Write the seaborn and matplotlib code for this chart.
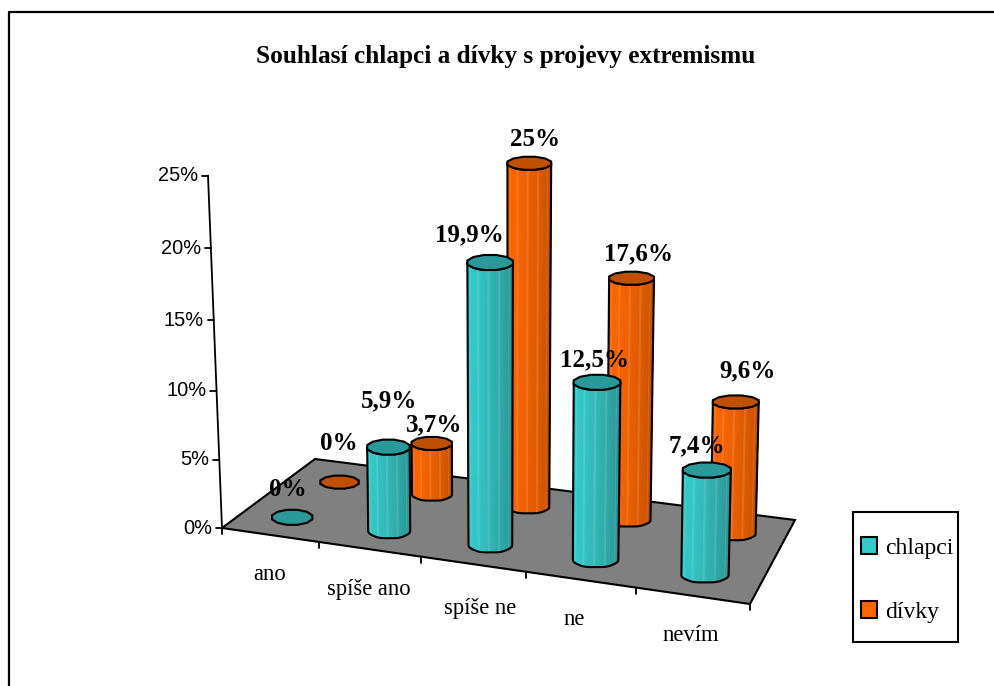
import numpy as np
import pandas as pd
import matplotlib
matplotlib.use("Agg")
import matplotlib.pyplot as plt
from matplotlib.patches import Patch, Polygon, Rectangle
import seaborn as sns

# Values
categories = ["ano", "spíše ano", "spíše ne", "ne", "nevím"]
chlapci = [0, 5.9, 19.9, 12.5, 7.4]
divky = [0, 3.7, 25, 17.6, 9.6]
chlapci_labels = ["0%", "5,9%", "19,9%", "12,5%", "7,4%"]
divky_labels = ["0%", "3,7%", "25%", "17,6%", "9,6%"]
y_ticks = [0, 5, 10, 15, 20, 25]

# Where the value labels sit in the figure, in pixels
chlapci_label_xy = [(288, 490), (389, 401), (469, 235), (594, 360), (697, 446)]
divky_label_xy = [(339, 444), (434, 425), (535, 139), (639, 254), (748, 371)]

data = pd.DataFrame({"category": categories, "chlapci": chlapci, "divky": divky})
data["pos"] = data.index + 0.5
long_data = data.melt(id_vars=["category", "pos"], var_name="series", value_name="value")

sns.set_theme(style="white")
plt.rcParams["font.family"] = ["Liberation Serif", "DejaVu Serif"]

TEAL = "#33CCCC"
ORANGE = "#FF6600"
teal_shades = sns.blend_palette([TEAL, "#33C4C4", "#2FA8A8", "#2A8F8F"], 32)
orange_shades = sns.blend_palette([ORANGE, "#F86300", "#DD5A00", "#BB4E00"], 32)
styles = {
    "chlapci": dict(depth=0.25, dx=0, shades=teal_shades, top="#2A9999"),
    "divky": dict(depth=0.75, dx=3, shades=orange_shades, top="#BF5000"),
}

# Corners of the floor in pixels: front left, front right, back right, back left
FL, FR = np.array([222.0, 528.0]), np.array([750.0, 604.0])
BR, BL = np.array([795.0, 520.0]), np.array([315.0, 459.0])


def floor(cat, depth):
    t = cat / 5
    u = t * (0.9 + 0.1 * t)
    front = FL + (FR - FL) * u
    back = BL + (BR - BL) * u
    return front + (back - front) * depth


def rise(val):
    return 13.5 * val + 0.024 * val ** 2


fig = plt.figure(figsize=(9.95, 6.86), dpi=100)
ax = fig.add_axes([0, 0, 1, 1])
ax.set_xlim(0, 995)
ax.set_ylim(686, 0)
ax.axis("off")

# chart frame
ax.plot([9, 9, 995], [686, 11.5, 11.5], color="black", lw=1.6)

ax.text(506, 57, "Souhlasí chlapci a dívky s projevy extremismu", fontsize=18.2,
        fontweight="bold", ha="center", va="center", color="black")

# floor
ax.add_patch(Polygon([FL, FR, BR, BL], closed=True, fc="#808080", ec="black", lw=1.5, zorder=1))

# y axis
axis_top_x = FL[0] - 14
ax.plot([FL[0], axis_top_x], [FL[1], FL[1] - rise(25)], color="black", lw=1.3, zorder=2)
for v in y_ticks:
    x = FL[0] - 14 * v / 25
    y = FL[1] - rise(v)
    ax.plot([x - 6, x], [y, y], color="black", lw=1.3, zorder=2)
    ax.text(x - 10, y, f"{v}%", family="Liberation Sans", fontsize=14.4, ha="right",
            va="center", color="black")

# category ticks and labels
for c in range(6):
    p = floor(c, 0)
    ax.plot([p[0], p[0]], [p[1], p[1] + 6], color="black", lw=1.3, zorder=2)
label_nudge = [(0, 0), (0, 0), (7, 4), (-6, 0), (-2, 0)]
for i, row in data.iterrows():
    p = floor(row["pos"], 0)
    ax.text(p[0] + label_nudge[i][0], p[1] + 40 + label_nudge[i][1], row["category"], fontsize=16.3,
            ha="center", va="center", color="black")


def cylinder(cat, val, depth, dx, shades, top_color, zorder):
    base = floor(cat, depth) + np.array([dx, 0])
    rx = 0.5 * np.linalg.norm(floor(cat + 0.21, depth) - floor(cat - 0.21, depth))
    ry = 8.0 - 2.0 * depth
    h = val * (14.425 - 0.9 * depth)
    lean = (base[0] - 500) * 0.0012 * val
    top = base + np.array([lean, -h])
    rx_top = rx * (1 + 0.002 * val)
    n = len(shades)
    # outline keeps the faceted look of the original
    a = np.pi - (np.arange(n + 1) / n) * np.pi
    wob = 1 + 0.035 * np.cos(6 * a)
    xb, yb = base[0] + rx * np.cos(a), base[1] + ry * wob * np.sin(a)
    xt, yt = top[0] + rx_top * np.cos(a), top[1] + ry * wob * np.sin(a)
    if val > 0:
        for k in range(n):
            col = shades[k]
            # the thin light streaks of the original render
            if k in (5, 10, 15, 20, 26):
                col = sns.blend_palette([shades[k], "white"], 9)[1]
            ax.add_patch(Polygon([(xb[k], yb[k]), (xb[k + 1], yb[k + 1]), (xt[k + 1], yt[k + 1]), (xt[k], yt[k])],
                                 closed=True, fc=col, ec=col, lw=0.7, zorder=zorder))
        outline = list(zip(xb, yb)) + list(zip(xt[::-1], yt[::-1]))
        ax.add_patch(Polygon(outline, closed=True, fill=False, ec="black", lw=1.5, zorder=zorder + 0.1))
    b = np.linspace(0, 2 * np.pi, 13)[:-1] + np.pi / 12
    rim = np.c_[top[0] + rx_top * np.cos(b) / np.cos(np.pi / 12), top[1] + ry * np.sin(b) / np.cos(np.pi / 12)]
    ax.add_patch(Polygon(rim, closed=True, fc=top_color, ec="black", lw=1.5, zorder=zorder + 0.2))


# back row first, then front row
for order, name in enumerate(["divky", "chlapci"]):
    st = styles[name]
    rows = long_data[long_data["series"] == name]
    for j, (_, row) in enumerate(rows.iterrows()):
        cylinder(row["pos"], row["value"], st["depth"], st["dx"], st["shades"], st["top"], 3 + order + j * 0.01)

for labels, spots in [(chlapci_labels, chlapci_label_xy), (divky_labels, divky_label_xy)]:
    for txt, (x, y) in zip(labels, spots):
        ax.text(x, y, txt, fontsize=18, fontweight="bold", ha="center", va="center",
                color="black", zorder=10)

# legend box is drawn apart because its padding differs per side
ax.add_patch(Rectangle((853, 512), 105, 130, fc="white", ec="black", lw=1.5, zorder=5))
handles = [Patch(fc=TEAL, ec="black", lw=1.5), Patch(fc=ORANGE, ec="black", lw=1.5)]
leg = ax.legend(handles, ["chlapci", "dívky"], loc="upper left",
                bbox_to_anchor=(861 / 995, 1 - 537 / 686), bbox_transform=fig.transFigure,
                fontsize=17, frameon=False, borderaxespad=0, borderpad=0, handlelength=0.68,
                handleheight=0.72, handletextpad=0.34, labelspacing=1.8, labelcolor="black")
leg.set_zorder(6)

fig.savefig("out.png", dpi=100)
